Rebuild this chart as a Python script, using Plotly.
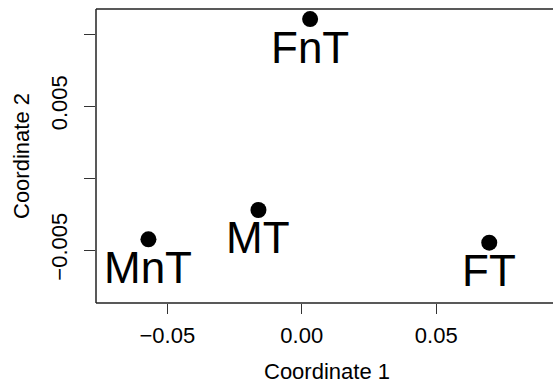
import plotly.graph_objects as go

labels = ["FnT", "MT", "MnT", "FT"]
coord1 = [0.0031, -0.0161, -0.0570, 0.0697]
coord2 = [0.01104, -0.00222, -0.00426, -0.00449]

x_tickvals = [-0.05, 0.0, 0.05]
x_ticktext = ["\u22120.05", "0.00", "0.05"]
y_tickvals = [-0.005, 0.0, 0.005, 0.01]
y_ticktext = ["\u22120.005", "", "0.005", ""]

FONT = "Liberation Sans, Arial, sans-serif"
LINE = "#222222"

fig = go.Figure()
fig.add_trace(go.Scatter(
    x=coord1, y=coord2, mode="markers",
    marker=dict(size=16, color="black"),
    hoverinfo="skip", showlegend=False, cliponaxis=False,
))
for lab, xv, yv in zip(labels, coord1, coord2):
    fig.add_annotation(x=xv, y=yv, xref="x", yref="y", text=lab,
                       showarrow=False, xanchor="center", yanchor="middle",
                       yshift=-28, font=dict(family=FONT, size=44, color="black"))

fig.add_annotation(text="Coordinate 1", xref="paper", yref="paper",
                   x=(327 - 96) / (553 - 96), y=0, yshift=-68,
                   xanchor="center", yanchor="middle", showarrow=False,
                   font=dict(family=FONT, size=22, color="black"))
fig.add_annotation(text="Coordinate 2", xref="paper", yref="paper",
                   x=0, y=0.5, xshift=-75, textangle=-90,
                   xanchor="center", yanchor="middle", showarrow=False,
                   font=dict(family=FONT, size=22, color="black"))

# box: left, top, bottom (right side lies beyond the window)
for x0, y0, x1, y1 in [(0, 0, 0, 1), (0, 1, 1.0, 1), (0, 0, 1.0, 0)]:
    fig.add_shape(type="line", xref="paper", yref="paper", x0=x0, y0=y0, x1=x1, y1=y1,
                  line=dict(color=LINE, width=1.5))

fig.update_layout(
    width=553, height=392,
    margin=dict(l=96, r=0, t=9, b=89),
    paper_bgcolor="white", plot_bgcolor="white",
    font=dict(family=FONT, size=22, color="black"),
)
fig.update_xaxes(range=[-0.0765, 0.0934], tickvals=x_tickvals, ticktext=x_ticktext,
                 ticks="outside", ticklen=10, tickcolor="#333", tickwidth=1,
                 showline=False, showgrid=False, zeroline=False, ticklabelstandoff=3,
                 tickfont=dict(family=FONT, size=22, color="black"))
fig.update_yaxes(range=[-0.00868, 0.01174], tickvals=y_tickvals, ticktext=y_ticktext,
                 ticks="outside", ticklen=11, tickcolor="#333", tickwidth=1,
                 showline=False, showgrid=False, zeroline=False, tickangle=-90, ticklabelstandoff=8,
                 tickfont=dict(family=FONT, size=22, color="black"))

fig.write_html("out.html")
